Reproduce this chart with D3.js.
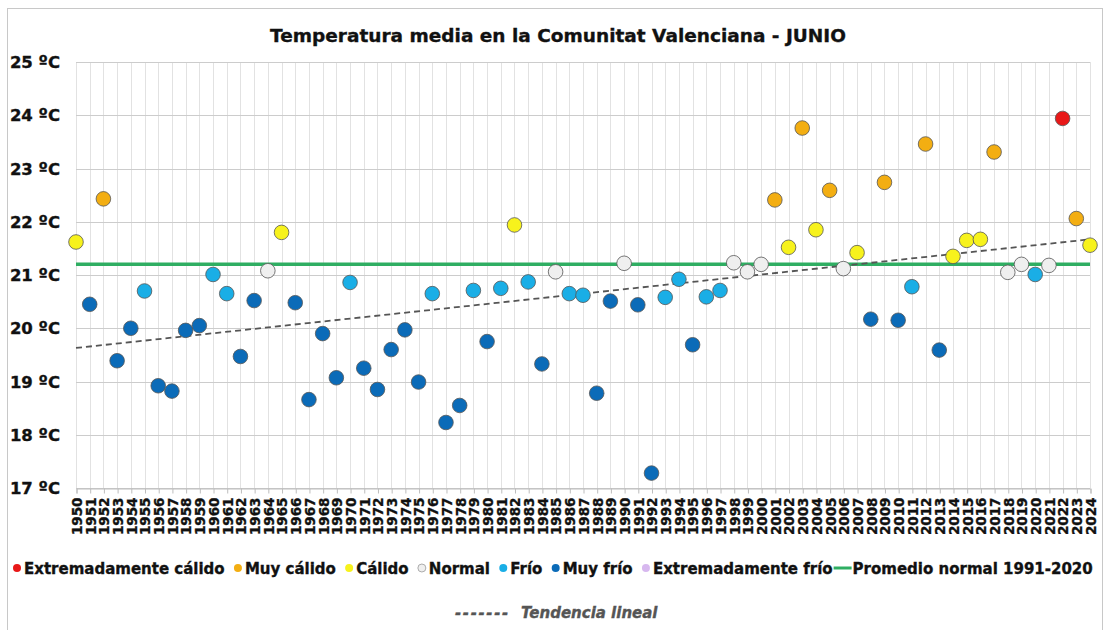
<!DOCTYPE html>
<html>
<head>
<meta charset="utf-8">
<script src="https://cdn.jsdelivr.net/npm/d3@7"></script>
<style>
  html, body { margin: 0; padding: 0; background: #fff; }
  svg { display: block; font-family: "DejaVu Sans", Verdana, sans-serif; }
  .bold { font-weight: bold; stroke: currentColor; stroke-width: 0.35px; paint-order: stroke; }
</style>
</head>
<body>
<svg id="chart" width="1108" height="630"></svg>
<script>
// ---- Data ----
const years = d3.range(1950, 2025);
const temps = [
  21.62, 20.45, 22.43, 19.39, 20.00, 20.70, 18.92, 18.82, 19.96, 20.05,
  21.01, 20.65, 19.47, 20.52, 21.08, 21.80, 20.48, 18.66, 19.90, 19.07,
  20.86, 19.25, 18.85, 19.60, 19.97, 18.99, 20.65, 18.23, 18.55, 20.71,
  19.75, 20.75, 21.94, 20.87, 19.33, 21.06, 20.65, 20.62, 18.78, 20.51,
  21.22, 20.44, 17.28, 20.58, 20.92, 19.69, 20.59, 20.71, 21.23, 21.06,
  21.20, 22.41, 21.52, 23.76, 21.85, 22.59, 21.12, 21.42, 20.17, 22.74,
  20.15, 20.78, 23.46, 19.59, 21.35, 21.65, 21.67, 23.31, 21.05, 21.20,
  21.01, 21.18, 23.94, 22.06, 21.56
];
// categories: EC=Extremadamente cálido, MC=Muy cálido, C=Cálido, N=Normal, F=Frío, MF=Muy frío, EF=Extremadamente frío
const classes = [
  "C","MF","MC","MF","MF","F","MF","MF","MF","MF",
  "F","F","MF","MF","N","C","MF","MF","MF","MF",
  "F","MF","MF","MF","MF","MF","F","MF","MF","F",
  "MF","F","C","F","MF","N","F","F","MF","MF",
  "N","MF","MF","F","F","MF","F","F","N","N",
  "N","MC","C","MC","C","MC","N","C","MF","MC",
  "MF","F","MC","MF","C","C","C","MC","N","N",
  "F","N","EC","MC","C"
];
const categoryKeys = ["EC","MC","C","N","F","MF","EF"];
const categoryLabels = ["Extremadamente cálido","Muy cálido","Cálido","Normal","Frío","Muy frío","Extremadamente frío"];
const categoryColors = ["#e81818","#f3ae12","#f7f21c","#efefef","#1aaee6","#0b6bb8","#d7b8ef"];
const normalMean = 21.2;
const normalLabel = "Promedio normal 1991-2020";
const trendStart = 19.63, trendEnd = 21.67;   // linear trend at 1950 and 2024
const trendLabel = "Tendencia lineal";
const yTicks = [17,18,19,20,21,22,23,24,25];
const title = "Temperatura media en la Comunitat Valenciana - JUNIO";

// ---- Layout ----
const svg = d3.select("#chart");
const pL = 76, pR = 1090, pT = 62, pB = 488;

const x = d3.scaleLinear().domain([1950, 2024]).range([pL, pR]);
const y = d3.scaleLinear().domain([17, 25]).range([pB, pT]);
const color = d3.scaleOrdinal().domain(categoryKeys).range(categoryColors);

// frame
svg.append("rect").attr("x", 7.5).attr("y", 8.5).attr("width", 1095).attr("height", 640)
  .attr("fill", "#fff").attr("stroke", "#c8c8c8").attr("stroke-width", 1);

// title
svg.append("text").attr("class", "bold").attr("x", 558).attr("y", 42).attr("text-anchor", "middle")
  .attr("font-size", 18.5).attr("fill", "#111").style("color", "#111").text(title);

// vertical grid
svg.append("g").selectAll("line").data(years).join("line")
  .attr("x1", d => Math.round(x(d)) + 0.5).attr("x2", d => Math.round(x(d)) + 0.5)
  .attr("y1", pT).attr("y2", pB)
  .attr("stroke", "#e2e2e2").attr("stroke-width", 1);

// horizontal grid
svg.append("g").selectAll("line").data(yTicks).join("line")
  .attr("x1", pL).attr("x2", pR)
  .attr("y1", d => Math.round(y(d)) + 0.5).attr("y2", d => Math.round(y(d)) + 0.5)
  .attr("stroke", "#cccccc").attr("stroke-width", 1);

// y labels
svg.append("g").selectAll("text").data(yTicks).join("text")
  .attr("class", "bold")
  .attr("x", 60).attr("y", d => y(d) + 6).attr("text-anchor", "end")
  .attr("font-size", 16.5).attr("fill", "#111").style("color", "#111")
  .text(d => d + " ºC");

// x axis
const xAxis = d3.axisBottom(x).tickValues(years).tickSize(5).tickFormat(d3.format("d"));
const gx = svg.append("g").attr("transform", `translate(0.5,${Math.round(pB) + 0.5})`).call(xAxis);
gx.select(".domain").attr("stroke", "#bdbdbd");
gx.selectAll(".tick line").attr("stroke", "#bdbdbd");
gx.selectAll(".tick text")
  .attr("class", "bold")
  .attr("font-family", "'DejaVu Sans', Verdana, sans-serif")
  .attr("font-size", 13.5).attr("fill", "#111").style("color", "#111")
  .attr("transform", "rotate(-90)")
  .attr("text-anchor", "end")
  .attr("x", -9).attr("y", 0).attr("dy", "0.36em");

// normal mean line
svg.append("line").attr("x1", pL).attr("x2", pR)
  .attr("y1", y(normalMean)).attr("y2", y(normalMean))
  .attr("stroke", "#2fae62").attr("stroke-width", 3.5);

// trend line
svg.append("line").attr("x1", x(1950)).attr("x2", x(2024))
  .attr("y1", y(trendStart)).attr("y2", y(trendEnd))
  .attr("stroke", "#555").attr("stroke-width", 1.8).attr("stroke-dasharray", "6,4");

// points
svg.append("g").selectAll("circle").data(years).join("circle")
  .attr("cx", d => x(d)).attr("cy", (d, i) => y(temps[i]))
  .attr("r", 7.3)
  .attr("fill", (d, i) => color(classes[i]))
  .attr("stroke", "#555").attr("stroke-width", 0.8);

// legend row 1 (spread to fill from x=17 to x=1102)
const lg = svg.append("g").attr("font-size", 15).attr("fill", "#111").style("color", "#111");
const ly = 568;
const items = [];
categoryKeys.forEach((k, i) => {
  const c = lg.append("circle").attr("cy", ly).attr("r", 4)
    .attr("fill", categoryColors[i]).attr("stroke", k === "N" ? "#999" : "none").attr("stroke-width", 0.8);
  const t = lg.append("text").attr("class", "bold").attr("y", ly + 5.5).text(categoryLabels[i]);
  items.push({c, t, w: t.node().getComputedTextLength()});
});
const ll = lg.append("line").attr("y1", ly).attr("y2", ly).attr("stroke", "#2fae62").attr("stroke-width", 3);
const lt = lg.append("text").attr("class", "bold").attr("y", ly + 5.5).text(normalLabel);
const ltw = lt.node().getComputedTextLength();
const used = items.reduce((s, it) => s + 11 + it.w, 0) + 20 + ltw;
const gap = (1102 - 13 - used) / items.length;
let cx = 13;
items.forEach(it => {
  it.c.attr("cx", cx + 4);
  it.t.attr("x", cx + 11);
  cx += 11 + it.w + gap;
});
cx -= gap;
ll.attr("x1", cx + 1).attr("x2", cx + 19);
lt.attr("x", cx + 20);

// legend row 2
const lg2 = svg.append("g").attr("font-size", 15).attr("font-style", "italic").attr("fill", "#555").style("color", "#555");
lg2.append("text").attr("class", "bold").attr("x", 455).attr("y", 618).attr("letter-spacing", 1.6).text("-------");
lg2.append("text").attr("class", "bold").attr("x", 521).attr("y", 618).text(trendLabel);
</script>
</body>
</html>
